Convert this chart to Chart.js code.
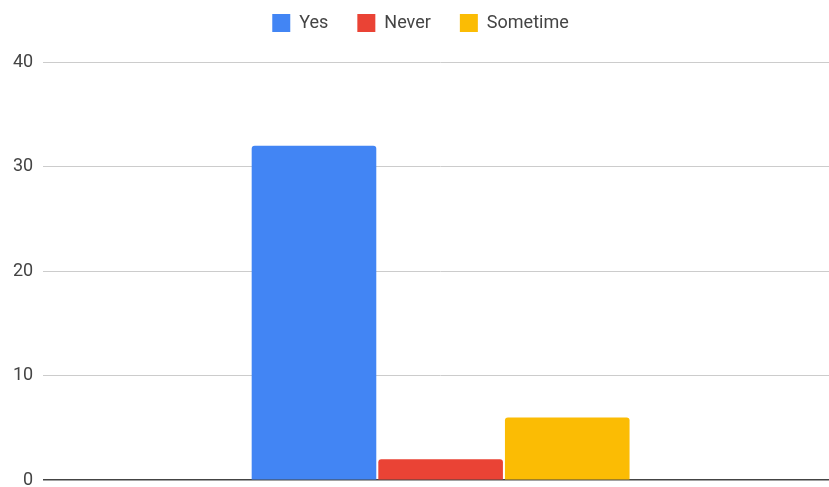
<!DOCTYPE html>
<html lang="en">
<head>
    <meta charset="UTF-8">
    <title>Chart</title>
    <script src="https://cdn.jsdelivr.net/npm/chart.js"></script>
    <style>
        html, body { margin: 0; padding: 0; background: #fff; overflow: hidden; }
        .graph { width: 838px; height: 501px; position: relative; }
    </style>
</head>
<body>
    <div class="graph">
        <canvas id="myChartCanvas"></canvas>
    </div>
<script>
    // dados
    const categorias = [''];
    const series = ['Yes', 'Never', 'Sometime'];
    const valoresYes = [32];
    const valoresNever = [2];
    const valoresSometime = [6];
    const ticksY = [0, 10, 20, 30, 40];

    const cores = ['#4285f4', '#ea4335', '#fbbc04'];
    const valores = [valoresYes, valoresNever, valoresSometime];

    Chart.defaults.font.family = 'Roboto, Arial, sans-serif';

    // espaço extra abaixo da legenda
    const margemLegenda = {
        id: 'margemLegenda',
        beforeInit: function (chart) {
            const fitOriginal = chart.legend.fit;
            chart.legend.fit = function () {
                fitOriginal.bind(chart.legend)();
                this.height += 20;
            };
        }
    };

    let dados = {
        labels: categorias,
        datasets: series.map(function (nome, i) {
            return {
                label: nome,
                data: valores[i],
                backgroundColor: cores[i],
                borderRadius: { topLeft: 3, topRight: 3 },
                borderSkipped: 'bottom',
                categoryPercentage: 0.478,
                barPercentage: 0.984
            };
        })
    };

    const config = {
        type: 'bar',
        data: dados,
        plugins: [margemLegenda],
        options: {
            responsive: true,
            maintainAspectRatio: false,
            animation: false,
            layout: { padding: { left: 3, right: 0, top: -15, bottom: 0 } },
            plugins: {
                tooltip: { enabled: false },
                legend: {
                    position: 'top',
                    labels: {
                        boxWidth: 18,
                        boxHeight: 18,
                        padding: 29,
                        color: '#444',
                        font: { size: 18 }
                    }
                }
            },
            scales: {
                x: { display: false },
                y: {
                    min: ticksY[0],
                    max: ticksY[ticksY.length - 1],
                    afterBuildTicks: function (axis) {
                        axis.ticks = ticksY.map(function (v) { return { value: v }; });
                    },
                    ticks: { color: '#444', padding: 10, font: { size: 18 } },
                    grid: {
                        color: function (ctx) { return ctx.tick && ctx.tick.value === 0 ? '#444' : '#ccc'; },
                        lineWidth: function (ctx) { return ctx.tick && ctx.tick.value === 0 ? 1.6 : 1; },
                        drawTicks: false
                    },
                    border: { display: false }
                }
            }
        }
    };

    let myChart = new Chart(document.getElementById('myChartCanvas'), config);
</script>
</body>
</html>
